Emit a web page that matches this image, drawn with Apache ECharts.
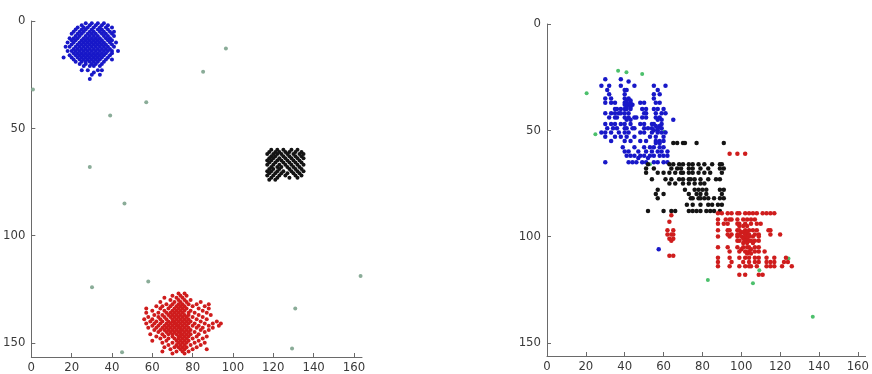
<!DOCTYPE html>
<html>
<head>
<meta charset="utf-8">
<script src="https://cdn.jsdelivr.net/npm/echarts@6/dist/echarts.min.js"></script>
<style>
  html, body { margin: 0; padding: 0; background: #fff; }
  #chart { width: 872px; height: 374px; }
</style>
</head>
<body>
<div id="chart"></div>
<script>
// Two scatter panels (image coords, y grows downward).
// Cluster points are kept as rows: [y, [x, x, ...]]

const X_TICKS = [0, 20, 40, 60, 80, 100, 120, 140, 160];
const Y_TICKS = [0, 50, 100, 150];

// ---- left panel: well separated clusters ----
const leftBlueRows = [
    [1, [27, 30, 33, 36]],
    [2, [25, 29, 32, 35, 38]],
    [3, [23, 26, 28, 31, 34, 37, 40]],
    [4, [22, 25, 27, 30, 33, 35, 38]],
    [5, [21, 24, 26, 29, 31, 34, 36, 39, 41]],
    [6, [20, 23, 25, 28, 30, 32, 35, 37, 40]],
    [7, [22, 24, 27, 29, 31, 33, 36, 38, 41]],
    [8, [19, 21, 23, 26, 28, 30, 32, 34, 37, 39]],
    [9, [20, 22, 25, 27, 29, 31, 33, 35, 38, 40]],
    [10, [18, 21, 24, 26, 28, 30, 32, 34, 36, 39, 42]],
    [11, [20, 23, 25, 27, 29, 31, 33, 35, 37, 40]],
    [12, [17, 19, 22, 24, 26, 28, 30, 32, 34, 36, 38, 41]],
    [13, [21, 23, 25, 27, 29, 31, 33, 35, 37, 39]],
    [14, [18, 20, 22, 24, 26, 28, 30, 32, 34, 36, 38, 40, 43]],
    [15, [21, 23, 25, 27, 29, 31, 33, 35, 37, 40]],
    [16, [19, 22, 24, 26, 28, 30, 32, 34, 36, 39]],
    [17, [16, 20, 23, 25, 27, 29, 31, 33, 35, 38]],
    [18, [21, 24, 26, 28, 30, 32, 34, 37, 40]],
    [19, [22, 25, 27, 29, 31, 33, 36]],
    [20, [24, 27, 30, 32, 35]],
    [21, [26, 29, 31, 34]],
    [23, [25, 28, 33, 35]],
    [24, [31]],
    [25, [30, 34]],
    [27, [29]]
];

const leftBlackRows = [
    [60, [119, 122, 125, 129, 132]],
    [61, [118, 121, 123, 126, 128, 131, 134]],
    [62, [117, 120, 122, 124, 127, 130, 133, 135]],
    [63, [119, 121, 125, 128, 131, 134]],
    [64, [118, 120, 123, 126, 129, 132, 135]],
    [65, [117, 119, 122, 124, 127, 130, 133]],
    [66, [118, 121, 125, 128, 131, 134]],
    [67, [117, 120, 123, 126, 129, 132, 135]],
    [68, [119, 122, 124, 127, 130, 133]],
    [69, [118, 120, 123, 128, 131, 134]],
    [70, [117, 119, 122, 125, 129, 132, 135]],
    [71, [118, 121, 124, 127, 130, 133]],
    [72, [117, 120, 123, 126, 131, 134]],
    [73, [119, 122, 128, 132]],
    [74, [118, 121]]
];

const leftRedRows = [
    [127, [73, 76]],
    [128, [70, 74, 77]],
    [129, [66, 72, 75]],
    [130, [69, 73, 76, 79]],
    [131, [64, 71, 74, 77, 84]],
    [132, [67, 70, 73, 75, 78, 82, 88]],
    [133, [62, 65, 69, 72, 74, 76, 80, 86]],
    [134, [57, 64, 68, 71, 73, 75, 77, 83, 88]],
    [135, [60, 66, 70, 72, 74, 76, 79, 85]],
    [136, [57, 63, 67, 69, 71, 73, 75, 78, 81, 87]],
    [137, [61, 65, 68, 70, 72, 74, 76, 78, 83, 89]],
    [138, [58, 63, 66, 69, 71, 73, 75, 77, 80, 85]],
    [139, [56, 60, 64, 67, 70, 72, 74, 76, 78, 82, 87]],
    [140, [59, 62, 65, 68, 70, 71, 73, 75, 77, 79, 84, 92]],
    [141, [57, 61, 64, 67, 69, 71, 72, 74, 76, 78, 81, 86, 90, 94]],
    [142, [60, 63, 66, 68, 70, 72, 73, 75, 77, 80, 83, 88, 93]],
    [143, [58, 62, 65, 67, 69, 71, 73, 74, 76, 78, 82, 85, 90]],
    [144, [61, 64, 66, 68, 70, 72, 74, 75, 77, 79, 84, 88]],
    [145, [63, 67, 69, 71, 73, 74, 76, 78, 81, 86]],
    [146, [59, 65, 68, 70, 72, 74, 75, 77, 79, 83]],
    [147, [62, 66, 70, 73, 74, 76, 78, 82, 87]],
    [148, [64, 68, 71, 73, 75, 77, 80, 85]],
    [149, [60, 67, 72, 74, 76, 78, 83]],
    [150, [65, 70, 73, 75, 77, 81, 86]],
    [151, [68, 72, 74, 76, 79, 84]],
    [152, [66, 71, 73, 75, 77, 82]],
    [153, [69, 74, 76, 80, 87]],
    [154, [65, 72, 75, 78]],
    [155, [70, 76]]
];

const leftNoise = [
    [96.5, 12.8], [85.2, 23.7], [0.8, 31.9], [57, 37.9], [39.1, 44.1],
    [29, 68], [46.2, 85.1], [30.1, 124.1], [58, 121.4], [163.3, 118.9],
    [130.9, 134], [129.3, 152.6], [45, 154.4]
];

// ---- right panel: overlapping clusters ----
const rightBlueRows = [
    [26, [30, 38]],
    [27, [42]],
    [29, [28, 32, 38, 45, 55, 61]],
    [31, [31, 40, 41, 57]],
    [33, [32, 40, 55, 58]],
    [35, [30, 33, 40, 42, 55]],
    [36, [41, 43]],
    [37, [30, 33, 35, 40, 41, 43, 48, 50, 56, 58]],
    [38, [40, 42, 44]],
    [39, [41, 43]],
    [40, [35, 36, 38, 40, 41, 43, 49, 51, 55, 57, 60]],
    [42, [30, 33, 35, 37, 38, 40, 42, 50, 51, 56, 59, 61]],
    [44, [32, 35, 36, 40, 42, 45, 46, 49, 51, 56, 58]],
    [45, [41, 43, 57, 59, 65]],
    [47, [30, 33, 35, 38, 40, 43, 48, 50, 54, 55, 59]],
    [48, [56, 58]],
    [49, [31, 34, 36, 40, 41, 44, 45, 50, 52, 54, 57, 59]],
    [50, [55, 57]],
    [51, [28, 30, 33, 37, 40, 42, 48, 50, 54, 57, 59, 61]],
    [53, [30, 35, 38, 41, 45, 53, 56, 60]],
    [55, [33, 40, 43, 48, 51, 56, 58, 60]],
    [56, [56, 58]],
    [58, [39, 45, 50, 53, 55, 58, 60]],
    [60, [40, 42, 47, 51, 54, 57, 59, 62]],
    [62, [41, 43, 45, 48, 50, 53, 55, 58, 60, 62]],
    [63, [47, 52]],
    [65, [30, 42, 44, 46, 49, 51, 55, 57, 60, 62]],
    [106, [57.5]]
];

const rightBlackRows = [
    [56, [65, 67, 70, 71, 77, 91]],
    [66, [52, 63, 65, 68, 70, 73, 75, 78, 81, 85, 89, 90]],
    [68, [51, 55, 64, 67, 69, 73, 75, 79, 83, 89, 91]],
    [70, [51, 57, 60, 63, 66, 69, 70, 73, 75, 78, 81, 84, 90]],
    [73, [54, 61, 64, 68, 70, 73, 74, 76, 79, 83, 87, 89]],
    [75, [63, 66, 70, 73, 76, 79, 81]],
    [78, [57, 71, 76, 78, 80, 82, 89, 91]],
    [80, [56, 60, 73, 77, 79, 82, 90]],
    [82, [57, 74, 75, 78, 79, 81, 83, 86, 89, 91]],
    [85, [72, 75, 79, 83, 85, 88, 90]],
    [88, [52, 60, 64, 66, 73, 75, 77, 79, 82, 84, 86, 89]]
];

const rightRedRows = [
    [61, [94, 98, 102]],
    [89, [88, 90, 93, 95, 98, 99, 102, 104, 106, 108, 111, 113, 115, 117]],
    [90, [64]],
    [92, [88, 92, 94, 95, 98, 101, 103, 105, 107]],
    [93, [63]],
    [94, [88, 91, 93, 98, 99, 102, 105, 108, 110]],
    [95, [99, 101, 103]],
    [97, [62, 65, 88, 93, 94, 98, 99, 102, 104, 106, 108, 114, 115]],
    [98, [100, 101, 103]],
    [99, [62, 64, 65, 93, 95, 98, 99, 102, 104, 107, 109, 115, 120]],
    [100, [88, 94, 98, 100, 102, 104, 106, 109]],
    [101, [63, 65, 101, 103]],
    [102, [64, 98, 99, 102, 104, 105, 107, 109]],
    [103, [101, 103, 106]],
    [105, [88, 93, 98, 101, 103, 104, 107, 109]],
    [106, [100, 105]],
    [107, [94, 99, 102, 104, 107, 109, 112]],
    [108, [103, 105]],
    [109, [63, 65]],
    [110, [88, 94, 99, 102, 104, 107, 109, 113, 117, 123]],
    [112, [88, 95, 101, 104, 107, 109, 113, 115, 117, 122, 124]],
    [114, [88, 94, 99, 102, 104, 105, 108, 113, 115, 117, 121, 126]],
    [118, [99, 102, 109, 111]]
];

const rightNoise = [
    [36.6, 22], [40.9, 22.7], [49, 23.5], [20.4, 32.6], [24.9, 51.9],
    [60.3, 50.7], [53, 66], [82.8, 120.5], [106, 122], [109.3, 115.8],
    [124.3, 110.3], [136.8, 137.7]
];

const COLORS = {
    blue: '#1818c8',
    black: '#141414',
    red: '#cf1d1d',
    noiseLeft: '#8aac98',
    noiseRight: '#4cc06c'
};

function expandRows(rows) {
    const pts = [];
    rows.forEach(([y, xs]) => xs.forEach(x => pts.push([x, y])));
    return pts;
}

const FONT = "'DejaVu Sans Condensed', 'Liberation Sans Narrow', 'Liberation Sans', sans-serif";
const AXIS_COLOR = '#6a6a6a';
const LABEL_COLOR = '#3a3a3a';

function xAxisFor(gridIndex, max) {
    return {
        type: 'value', gridIndex, min: 0, max,
        axisLine: { show: true, onZero: false, lineStyle: { color: AXIS_COLOR, width: 1 } },
        axisTick: { show: true, inside: true, length: 4, customValues: X_TICKS, lineStyle: { color: AXIS_COLOR } },
        axisLabel: { customValues: X_TICKS, color: LABEL_COLOR, fontSize: 13, fontFamily: FONT, margin: 4 },
        splitLine: { show: false }
    };
}

function yAxisFor(gridIndex, max) {
    return {
        type: 'value', gridIndex, min: 0, max, inverse: true,
        axisLine: { show: true, onZero: false, lineStyle: { color: AXIS_COLOR, width: 1 } },
        axisTick: { show: true, inside: true, length: 4, customValues: Y_TICKS, lineStyle: { color: AXIS_COLOR } },
        axisLabel: { customValues: Y_TICKS, color: LABEL_COLOR, fontSize: 13, fontFamily: FONT, margin: 6 },
        splitLine: { show: false }
    };
}

function scatter(name, data, color, gridIndex, size) {
    return {
        name, type: 'scatter', data,
        xAxisIndex: gridIndex, yAxisIndex: gridIndex,
        symbol: 'circle', symbolSize: size,
        itemStyle: { color, opacity: 1 },
        silent: true
    };
}

const chart = echarts.init(document.getElementById('chart'), null, { renderer: 'canvas' });

chart.setOption({
    animation: false,
    backgroundColor: '#ffffff',
    grid: [
        { left: 30, top: 21, width: 332, height: 337 },
        { left: 547, top: 24, width: 329, height: 332 }
    ],
    xAxis: [xAxisFor(0, 164), xAxisFor(1, 164)],
    yAxis: [yAxisFor(0, 156.6), yAxisFor(1, 156.2)],
    series: [
        scatter('noise L', leftNoise, COLORS.noiseLeft, 0, 4),
        scatter('blue L', expandRows(leftBlueRows), COLORS.blue, 0, 4),
        scatter('black L', expandRows(leftBlackRows), COLORS.black, 0, 4),
        scatter('red L', expandRows(leftRedRows), COLORS.red, 0, 4),
        scatter('noise R', rightNoise, COLORS.noiseRight, 1, 4),
        scatter('blue R', expandRows(rightBlueRows), COLORS.blue, 1, 4.5),
        scatter('black R', expandRows(rightBlackRows), COLORS.black, 1, 4.5),
        scatter('red R', expandRows(rightRedRows), COLORS.red, 1, 4.5)
    ]
});

window.addEventListener('resize', () => chart.resize());
</script>
</body>
</html>
